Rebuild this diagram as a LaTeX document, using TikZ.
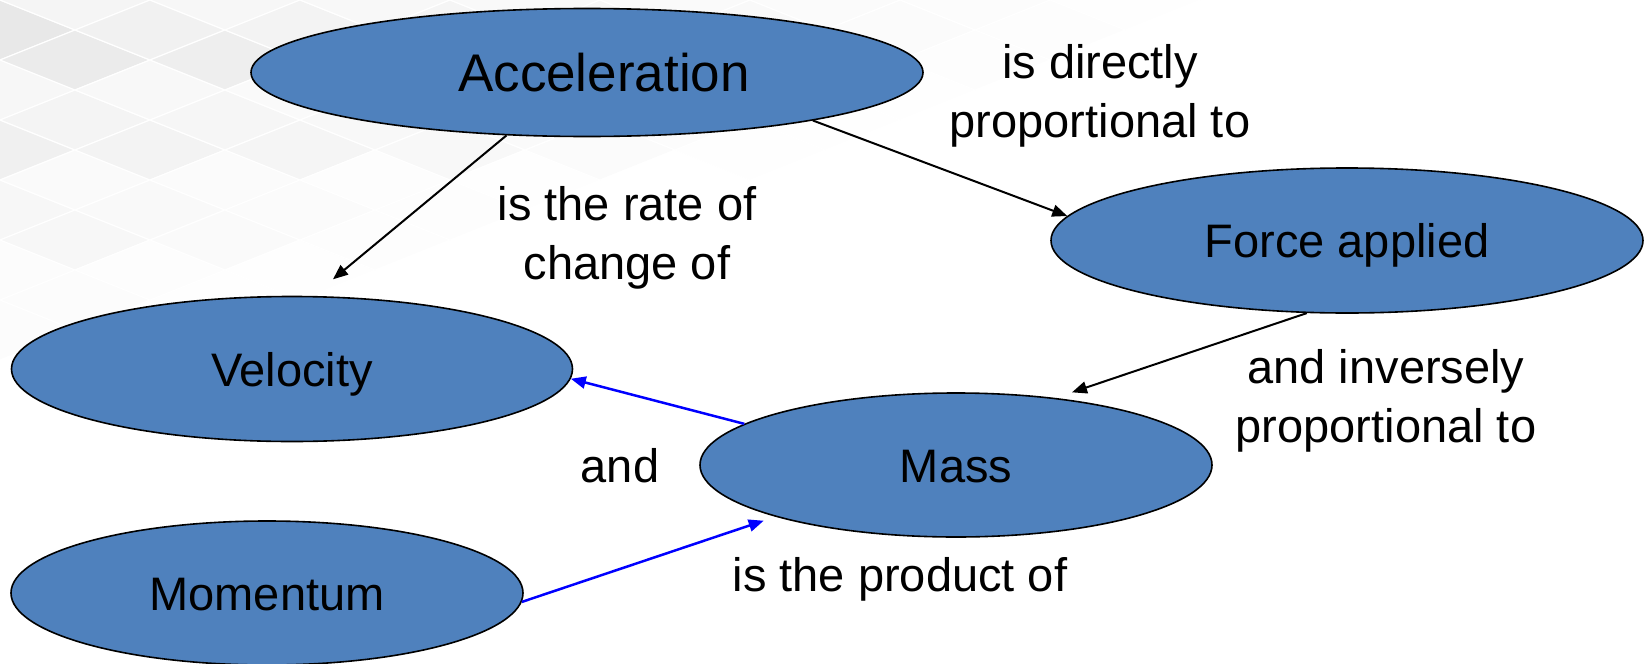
\documentclass[tikz,border=0pt]{standalone}
\usepackage{fontspec}
\setmainfont{Liberation Sans}
\usetikzlibrary{arrows.meta,shapes.geometric}
\definecolor{nodeblue}{RGB}{79,129,189}
\begin{document}
\begin{tikzpicture}[x=0.5pt,y=-0.5pt,
  concept/.style={ellipse, draw=black, line width=0.8pt, fill=nodeblue, inner sep=0pt,
    font=\fontsize{23.5}{28}\selectfont, text height=17pt, text depth=0pt},
  lbl/.style={align=center, inner sep=0pt, font=\fontsize{23.5}{29.5}\selectfont},
  conn/.style={-{Triangle[length=7.5pt,width=6pt]}, line width=1pt, draw=black},
  blueconn/.style={-{Triangle[length=7.5pt,width=6pt]}, line width=1.25pt, draw=blue, fill=blue},
  tile/.style={draw=white, line width=0.6pt}]
\useasboundingbox (0,0) rectangle (1644,664);
\fill[white] (0,0) rectangle (1644,664);
% faint tiled background
\begin{scope}
\clip (0,0) rectangle (1644,664);
\foreach \i in {-8,...,20}{\foreach \j in {-8,...,20}{
  \pgfmathsetmacro{\cx}{75*(\i+\j)}
  \pgfmathsetmacro{\cy}{30*(\j-\i)}
  \pgfmathsetmacro{\f}{max(0,1-(\cx+75)/1300-(\cy)/380)}
  \pgfmathsetmacro{\lvl}{\f*(4+3*mod(abs(\i*2+\j*7),3))}
  \fill[tile, fill=black!\lvl] (\cx,\cy) -- ++(75,-30) -- ++(75,30) -- ++(-75,30) -- cycle;
}}
\end{scope}
% nodes
\node[concept, minimum width=336pt, minimum height=64pt, font=\fontsize{26.5}{31}\selectfont, text height=19pt] (acc) at (587,72.5) {\hspace*{17pt}Acceleration};
\node[concept, minimum width=296pt, minimum height=72.5pt] (force) at (1347,240.5) {Force applied};
\node[concept, minimum width=280.5pt, minimum height=72.5pt] (vel) at (292,369) {Velocity};
\node[concept, minimum width=256pt, minimum height=72pt] (mass) at (956,465) {Mass};
\node[concept, minimum width=256pt, minimum height=72pt] (mom) at (267,593) {Momentum};
% labels
\node[lbl] (l1) at (1100,95.5) {is directly\\proportional to};
\node[lbl] (l2) at (627,237.5) {is the rate of\\change of};
\node[lbl] (l3) at (1386,400.5) {and inversely\\proportional to};
\node[lbl] (l4) at (620,466) {and};
\node[lbl] (l5) at (900,579) {is the product of};
% connectors
\draw[conn, shorten >=13pt] (acc.218) -- (vel.74);
\draw[conn] (acc.348) -- (force.175.4);
\draw[conn, shorten >=8.7pt] (force.241) -- (mass.34);
\draw[blueconn] (mass.169) -- (vel.358.4);
\draw[blueconn, shorten >=6.2pt] (mom.358) -- (mass.196);
\end{tikzpicture}
\end{document}
